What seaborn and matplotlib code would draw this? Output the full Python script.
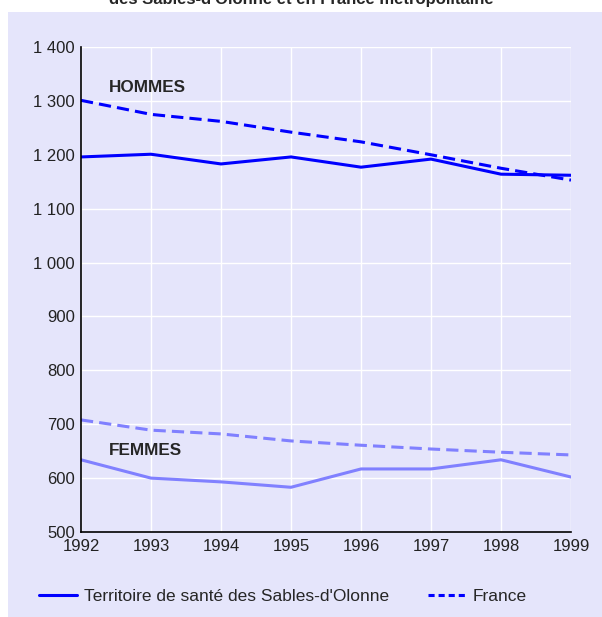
import pandas as pd
import matplotlib.pyplot as plt
import seaborn as sns
from matplotlib.lines import Line2D
from matplotlib.patches import Rectangle
from matplotlib.ticker import FuncFormatter

# Données
annees = [1992, 1993, 1994, 1995, 1996, 1997, 1998, 1999]
hommes_territoire = [1196, 1201, 1183, 1196, 1177, 1192, 1164, 1162]
hommes_france = [1301, 1275, 1262, 1242, 1224, 1200, 1175, 1153]
femmes_territoire = [634, 600, 593, 583, 617, 617, 634, 602]
femmes_france = [708, 689, 682, 669, 661, 654, 648, 643]

bleu = '#0000FF'
bleu_clair = '#8080FF'
fond = '#E5E5FB'

sns.set_style('white')
plt.rcParams['font.family'] = ['Liberation Sans', 'DejaVu Sans']

fig = plt.figure(figsize=(6.02, 6.17), dpi=100)
fig.patch.set_facecolor('white')
fig.patches.append(Rectangle((8 / 602, 0), 1, 1 - 12 / 617, transform=fig.transFigure,
                             facecolor=fond, edgecolor='none', zorder=-10))

ax = fig.add_axes([81 / 602, 85 / 617, 490 / 602, 485 / 617])
ax.set_facecolor(fond)

series = [
    (hommes_territoire, bleu, '-'),
    (hommes_france, bleu, '--'),
    (femmes_territoire, bleu_clair, '-'),
    (femmes_france, bleu_clair, '--'),
]
for valeurs, couleur, style in series:
    df = pd.DataFrame({'annee': annees, 'valeur': valeurs})
    sns.lineplot(data=df, x='annee', y='valeur', ax=ax, color=couleur, lw=2.2)
    if style == '--':
        ax.lines[-1].set_dashes((4, 2))

ax.set_xlim(1992, 1999)
ax.set_ylim(500, 1400)
ax.set_xticks(annees)
ax.set_yticks(range(500, 1401, 100))
ax.yaxis.set_major_formatter(FuncFormatter(lambda v, p: f'{int(v):,}'.replace(',', ' ')))
ax.grid(True, color='white', lw=1.0)
ax.set_axisbelow(True)
for s in ['top', 'right']:
    ax.spines[s].set_visible(False)
for s in ['left', 'bottom']:
    ax.spines[s].set_color('black')
    ax.spines[s].set_linewidth(1.2)
ax.tick_params(length=0, colors='#222222', labelsize=12)
ax.tick_params(axis='y', pad=4.5)
ax.tick_params(axis='x', pad=5)
ax.set_xlabel('')
ax.set_ylabel('')

ax.text(1992.4, 1324, 'HOMMES', fontsize=12.3, fontweight='bold', va='center')
ax.text(1992.4, 652, 'FEMMES', fontsize=12.3, fontweight='bold', va='center')

# titre coupé en haut de l'image
fig.text(0.5, 1 - 4 / 617, "des Sables-d'Olonne et en France métropolitaine",
         ha='center', va='baseline', fontsize=12, fontweight='bold')

handles = [Line2D([], [], color=bleu, lw=2.2),
           Line2D([], [], color=bleu, lw=2.2, dashes=(2, 1.3))]
fig.legend(handles, ["Territoire de santé des Sables-d'Olonne", 'France'],
           loc='center left', bbox_to_anchor=(23 / 602, 1 - 596 / 617), ncol=2, frameon=False,
           fontsize=12.5, handlelength=2.2, columnspacing=2.25, handletextpad=0.4)

plt.savefig('out.png', dpi=100)
